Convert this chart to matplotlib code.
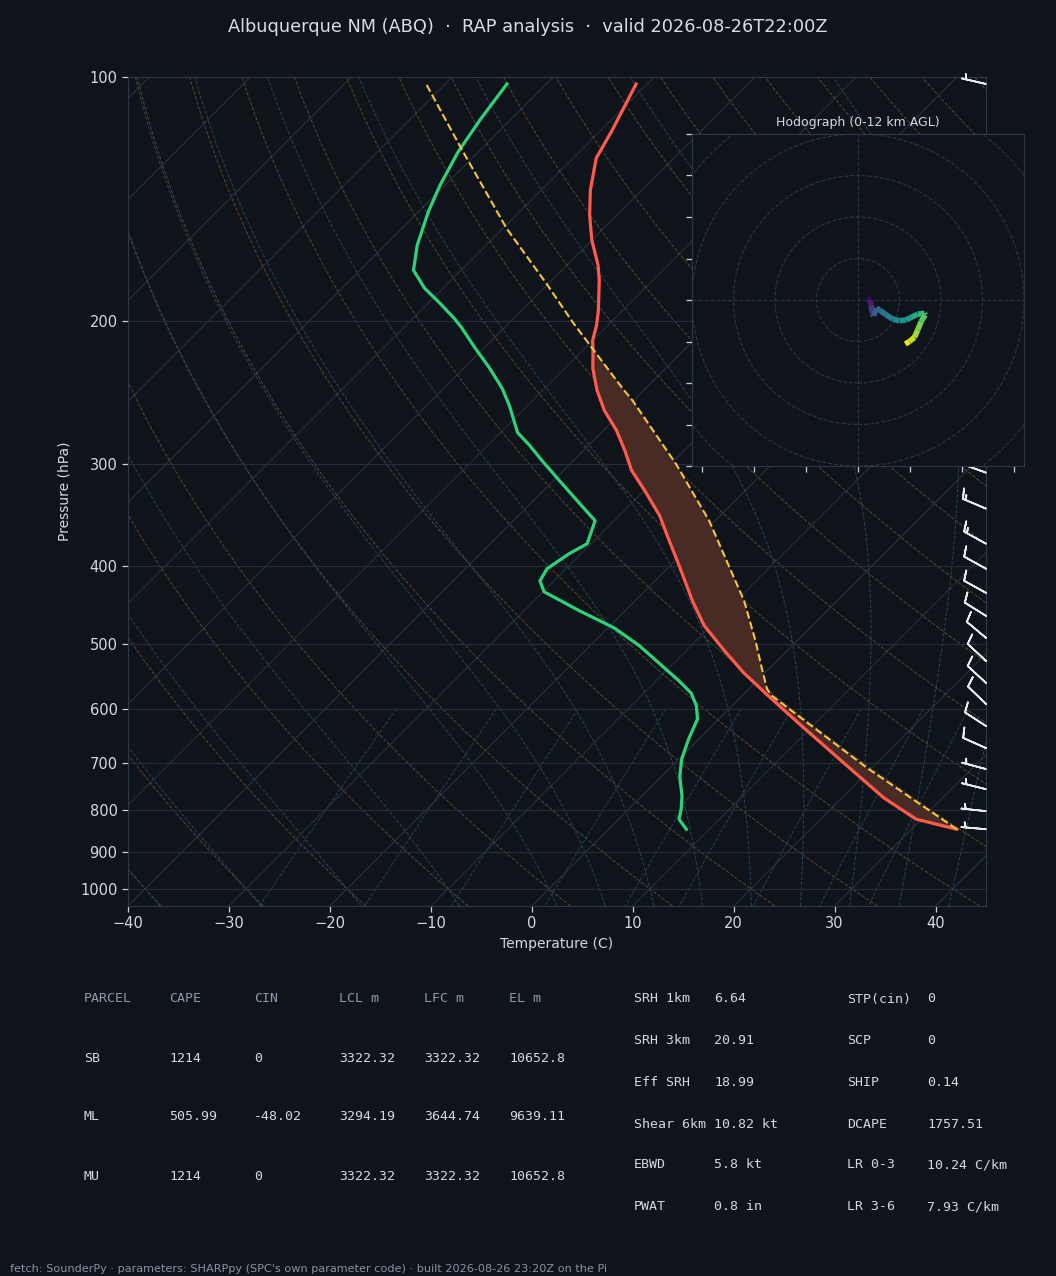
import numpy as np
import matplotlib
matplotlib.use("Agg")
import matplotlib.pyplot as plt
from matplotlib import transforms
from matplotlib.collections import LineCollection
from matplotlib.patches import Circle
from matplotlib.ticker import MultipleLocator, NullLocator

# --- sounding values (hPa, degC) ---
P_ENV = [844.5, 821, 773, 692, 625, 580, 542, 509, 474, 442, 400, 367, 347,
         323, 305, 288.5, 272.6, 257.5, 243.3, 228.6, 217, 211.1, 202.3, 193.9,
         178, 170.6, 158.9, 148, 137.9, 125.9, 116.2, 102]
T_ENV = [34.5, 29.5, 24.2, 15.9, 8.3, 2.8, -2.1, -6.2, -10.7, -14.3, -19.1,
         -23.3, -26.0, -30.0, -33.3, -35.9, -38.7, -41.9, -44.6, -47.2, -49.0,
         -50.0, -51.1, -52.4, -55.3, -56.9, -60.0, -62.7, -65.1, -67.7, -68.9,
         -71.1]

P_DEW = [844.5, 821, 797.7, 768.9, 726.5, 692.2, 654, 617.9, 595.4, 574,
         554.6, 526.9, 502, 477, 454.6, 430.7, 417.5, 403.4, 386.6, 375.8, 352,
         335.4, 314.2, 296.9, 284.5, 274.2, 253.9, 241.9, 228.6, 215.3, 203.4,
         198.3, 190, 182.1, 173, 161.2, 146.7, 135.9, 123.7, 113, 102]
TD_ENV = [7.7, 6.0, 5.2, 4.0, 1.8, 0.3, -1.0, -2.1, -3.5, -5.3, -7.7, -11.5,
          -15.1, -19.4, -24.5, -29.9, -31.4, -31.9, -31.2, -30.4, -31.9, -35.1,
          -39.4, -43.1, -45.8, -48.3, -51.8, -54.2, -57.4, -61.0, -64.3, -65.9,
          -68.8, -71.8, -74.7, -76.8, -79.0, -80.5, -82.0, -83.0, -83.9]

# surface-based parcel path
P_PARCEL = [844.5, 709.4, 578.7, 567.3, 534.5, 495, 441.8, 409.6, 352, 299.7,
            250.3, 242.2, 218.2, 200.4, 179.7, 153.7, 123, 102]
T_PARCEL = [34.5, 19.5, 3.0, 1.8, -0.8, -4.1, -9.2, -13.0, -20.6, -29.5,
            -40.1, -42.2, -48.6, -53.8, -60.2, -69.6, -81.8, -91.9]

# wind barbs (hPa, deg from, kt)
P_WIND = [844.5, 802.3, 753.9, 712.1, 670.9, 630.2, 592.0, 557.8, 524.0,
          490.8, 461.1, 432.0, 403.4, 375.8, 340.2, 307.2, 276, 250, 226, 205,
          186, 169, 153, 139, 126, 102]
WDIR = [275, 276, 284, 285, 294, 303, 314, 313, 313, 310, 302, 299, 299, 299,
        293, 290, 290, 292, 295, 298, 300, 300, 298, 295, 290, 283]
WSPD = [5, 5, 5, 5, 10, 10, 10, 10, 10, 10, 10, 10, 10, 15, 15, 15, 15, 15,
        15, 15, 15, 15, 10, 10, 10, 5]

# hodograph (km AGL, kt)
HODO_Z = [0, 0.6, 1.2, 2.4, 3.0, 3.6, 4.2, 4.8, 5.3, 5.8, 6.3, 6.9, 7.6, 8.2,
          8.5, 9.2, 9.9, 10.6, 11.3, 12.0]
HODO_U = [2.2, 2.8, 3.2, 3.4, 3.8, 4.4, 5.2, 6.8, 8.4, 10.0, 11.6, 12.8, 14.4,
          16.0, 16.2, 15.2, 14.4, 13.6, 12.4, 11.4]
HODO_V = [0.4, 0.0, -1.2, -3.2, -3.8, -2.0, -2.4, -3.6, -4.6, -5.0, -4.8, -4.2,
          -3.4, -3.2, -3.6, -5.2, -7.2, -9.0, -10.0, -10.6]

PRESSURE_TICKS = [100, 200, 300, 400, 500, 600, 700, 800, 900, 1000]
TEMP_TICKS = [-40, -30, -20, -10, 0, 10, 20, 30, 40]
MIXING_RATIOS = [0.0004, 0.001, 0.002, 0.004, 0.007, 0.01, 0.016, 0.024, 0.032]

PARCEL_HDR = ["PARCEL", "CAPE", "CIN", "LCL m", "LFC m", "EL m"]
PARCEL_ROWS = [["SB", "1214", "0", "3322.32", "3322.32", "10652.8"],
               ["ML", "505.99", "-48.02", "3294.19", "3644.74", "9639.11"],
               ["MU", "1214", "0", "3322.32", "3322.32", "10652.8"]]
IDX_LEFT = [("SRH 1km", "6.64"), ("SRH 3km", "20.91"), ("Eff SRH", "18.99"),
            ("Shear 6km", "10.82 kt"), ("EBWD", "5.8 kt"), ("PWAT", "0.8 in")]
IDX_RIGHT = [("STP(cin)", "0"), ("SCP", "0"), ("SHIP", "0.14"),
             ("DCAPE", "1757.51"), ("LR 0-3", "10.24 C/km"),
             ("LR 3-6", "7.93 C/km")]

TITLE = "Albuquerque NM (ABQ)  \u00b7  RAP analysis  \u00b7  valid 2026-08-26T22:00Z"
FOOTER = ("fetch: SounderPy \u00b7 parameters: SHARPpy (SPC's own parameter code)"
          " \u00b7 built 2026-08-26 23:20Z on the Pi")

BG = "#0f141a"
SPINE = "#2e3947"
TXT = "#d3d9df"
HDR = "#8d9bab"

W, H = 1056, 1276


def fx(x):
    return x / W


def fy(y):
    return 1 - y / H


# --- simple thermodynamics for the background lines ---
RD, CP, LV, EPS = 287.04, 1005.7, 2.501e6, 0.622


def sat_mr(tk, p):
    es = 6.112 * np.exp(17.67 * (tk - 273.15) / (tk - 29.65))
    return EPS * es / (p - es)


def dt_dlnp(tk, p):
    rs = sat_mr(tk, p)
    return (RD * tk + LV * rs) / (CP + LV * LV * rs * EPS / (RD * tk * tk))


def moist_run(t0c, p_end, n=160):
    lnp = np.linspace(np.log(1000.0), np.log(p_end), n)
    t = np.asarray(t0c, float) + 273.15
    out = [t.copy()]
    for a, b in zip(lnp[:-1], lnp[1:]):
        h = b - a
        k1 = dt_dlnp(t, np.exp(a))
        k2 = dt_dlnp(t + h / 2 * k1, np.exp(a + h / 2))
        k3 = dt_dlnp(t + h / 2 * k2, np.exp(a + h / 2))
        k4 = dt_dlnp(t + h * k3, np.exp(b))
        t = t + h / 6 * (k1 + 2 * k2 + 2 * k3 + k4)
        out.append(t.copy())
    return np.exp(lnp), np.array(out) - 273.15


fig = plt.figure(figsize=(W / 100, H / 100), dpi=100, facecolor=BG)
ax = fig.add_axes([fx(128), fy(906), fx(858), 829 / H], facecolor=BG)
ax.set_yscale("log")
ax.set_xlim(-40, 45)
ax.set_ylim(1050, 100)
ax.autoscale(False)

# skew so isotherms run at 45 degrees on screen
shear = 829 / 858
skewed = (ax.transScale + ax.transLimits
          + transforms.Affine2D().skew(np.arctan(shear), 0) + ax.transAxes)

pp = np.geomspace(1050, 100, 120)

for t in range(-130, 50, 10):
    ax.plot([t, t], [1050, 100], transform=skewed, color="#28313c", lw=0.8,
            zorder=1)

for t0 in range(-40, 246, 10):
    tt = (t0 + 273.15) * (pp / 1000.0) ** (RD / CP) - 273.15
    ax.plot(tt, pp, transform=skewed, color="#58462f", lw=0.7, ls="--",
            zorder=1)

moist_t0 = np.concatenate((np.arange(-40, 0, 10), np.arange(0, 46, 5)))
p_up, t_up = moist_run(moist_t0, 100)
p_dn, t_dn = moist_run(moist_t0, 1050, n=20)
for i in range(len(moist_t0)):
    tt = np.concatenate((t_dn[::-1, i], t_up[1:, i]))
    pm = np.concatenate((p_dn[::-1], p_up[1:]))
    ax.plot(tt, pm, transform=skewed, color="#284352", lw=0.7, ls="--",
            zorder=1)

pmix = np.linspace(600, 1050, 40)
for w in MIXING_RATIOS:
    e = pmix * w / (EPS + w)
    le = np.log(e / 6.112)
    td = 243.5 * le / (17.67 - le)
    ax.plot(td, pmix, transform=skewed, color="#25414e", lw=0.7, ls="--",
            zorder=1)

for p in PRESSURE_TICKS:
    ax.axhline(p, color="#252e38", lw=0.8, zorder=1)


def interp_logp(p_src, v_src, p_new):
    return np.interp(np.log(p_new), np.log(p_src)[::-1],
                     np.asarray(v_src, float)[::-1])


# CAPE area between parcel and environment
p_fill = np.geomspace(P_PARCEL[0], 205, 300)
te = interp_logp(P_ENV, T_ENV, p_fill)
tp = interp_logp(P_PARCEL, T_PARCEL, p_fill)
pos = tp >= te
ax.fill(np.concatenate((tp[pos], te[pos][::-1])),
        np.concatenate((p_fill[pos], p_fill[pos][::-1])),
        transform=skewed, color="#472b24", lw=0, zorder=2)

ax.plot(T_ENV, P_ENV, transform=skewed, color="#ff5a4c", lw=2.3, zorder=4)
ax.plot(TD_ENV, P_DEW, transform=skewed, color="#2fd27a", lw=2.3, zorder=4)
ax.plot(T_PARCEL, P_PARCEL, transform=skewed, color="#f6c443", lw=1.5,
        ls="--", zorder=5)

# wind barbs down the right edge
wd = np.deg2rad(WDIR)
u = -np.asarray(WSPD) * np.sin(wd)
v = -np.asarray(WSPD) * np.cos(wd)
ax.barbs(np.ones(len(P_WIND)), P_WIND, u, v,
         transform=transforms.blended_transform_factory(ax.transAxes,
                                                        ax.transData),
         length=6, color="#e6ebf0", linewidth=1.25, clip_on=False, zorder=6)

ax.set_yticks(PRESSURE_TICKS)
ax.set_yticklabels([str(p) for p in PRESSURE_TICKS])
ax.yaxis.set_minor_locator(NullLocator())
ax.set_xticks(TEMP_TICKS)
ax.tick_params(colors="#c9d0d8", labelcolor=TXT, labelsize=10.5, length=4,
               width=0.9)
for s in ax.spines.values():
    s.set_color(SPINE)
ax.set_xlabel("Temperature (C)", color=TXT, fontsize=10, labelpad=4)
ax.set_ylabel("Pressure (hPa)", color=TXT, fontsize=10, labelpad=6)

# hodograph inset
axh = fig.add_axes([fx(692), fy(466), fx(332), 332 / H], facecolor=BG)
axh.set_xlim(-40, 40)
axh.set_ylim(-40, 40)
for r in range(10, 60, 10):
    axh.add_patch(Circle((0, 0), r, fill=False, ls="--", lw=0.8,
                         color="#2a3543"))
axh.axhline(0, color="#2a3543", ls="--", lw=0.8)
axh.axvline(0, color="#2a3543", ls="--", lw=0.8)
pts = np.column_stack([HODO_U, HODO_V]).reshape(-1, 1, 2)
segs = np.concatenate([pts[:-1], pts[1:]], axis=1)
lc = LineCollection(segs, cmap="viridis", norm=plt.Normalize(0, 12), lw=4,
                    capstyle="butt")
lc.set_array(np.asarray(HODO_Z[:-1]) * 0.5 + np.asarray(HODO_Z[1:]) * 0.5)
axh.add_collection(lc)
axh.xaxis.set_major_locator(MultipleLocator(12.5))
axh.yaxis.set_major_locator(MultipleLocator(10))
axh.tick_params(labelbottom=False, labelleft=False, colors="#c9d0d8",
                length=4, width=0.9)
for s in axh.spines.values():
    s.set_color(SPINE)
axh.set_title("Hodograph (0-12 km AGL)", color=TXT, fontsize=9, pad=6)

fig.text(0.5, fy(27), TITLE, ha="center", va="center", color="#d8dde3",
         fontsize=12.8)

# parcel table
mono = "DejaVu Sans Mono"
cols = [84, 169, 254, 339, 424, 509]
for x, h in zip(cols, PARCEL_HDR):
    fig.text(fx(x), fy(999), h, family=mono, fontsize=9.5, color=HDR,
             va="center")
for y, row in zip([1058, 1117, 1176], PARCEL_ROWS):
    for x, val in zip(cols, row):
        fig.text(fx(x), fy(y), val, family=mono, fontsize=9.5, color=TXT,
                 va="center")

rows_y = [999, 1041, 1082, 1124, 1165, 1207]
for y, (k1, v1), (k2, v2) in zip(rows_y, IDX_LEFT, IDX_RIGHT):
    fig.text(fx(634), fy(y), k1, family=mono, fontsize=9.5, color=TXT,
             va="center")
    fig.text(fx(714), fy(y), v1, family=mono, fontsize=9.5, color=TXT,
             va="center")
    fig.text(fx(847), fy(y), k2, family=mono, fontsize=9.5, color=TXT,
             va="center")
    fig.text(fx(927), fy(y), v2, family=mono, fontsize=9.5, color=TXT,
             va="center")

fig.text(fx(10), fy(1269), FOOTER, fontsize=8.1, color="#8794a2",
         va="center")

fig.savefig("out.png", dpi=100, facecolor=BG)
